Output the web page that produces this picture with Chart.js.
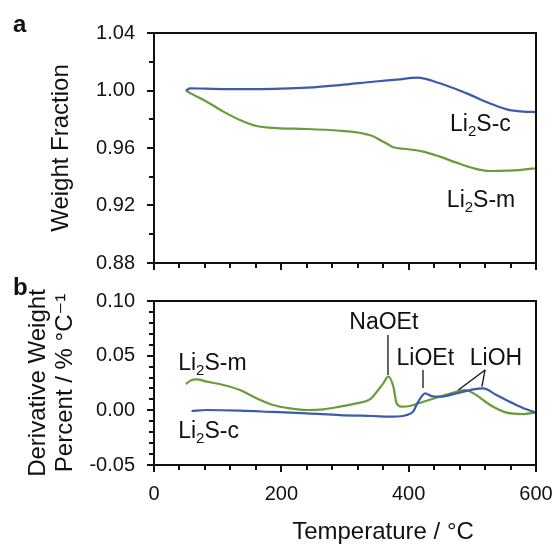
<!DOCTYPE html>
<html><head><meta charset="utf-8">
<script src="https://cdn.jsdelivr.net/npm/chart.js@4.4.1/dist/chart.umd.min.js"></script>
<style>
html,body{margin:0;padding:0;background:#fff;}
#wrap{position:relative;width:555px;height:547px;overflow:hidden;background:#fff;}
#c1{position:absolute;left:0;top:0;}
#c2{position:absolute;left:0;top:270px;}
</style></head><body>
<div id="wrap">
<canvas id="c1" width="555" height="270"></canvas>
<canvas id="c2" width="555" height="277"></canvas>
</div>
<script>
const FONT = "'Liberation Sans', Arial, 'DejaVu Sans', sans-serif";
const BLUE = 'rgb(58,92,170)';
const GREEN = 'rgb(106,156,58)';
const INK = '#111';

// ---- Panel a: weight fraction ----
const tempC_a = [50, 57, 80, 120, 160, 200, 240, 292, 344, 386, 413, 449, 491, 528, 554, 580, 600];
const wfC     = [1.000, 1.0015, 1.0013, 1.0010, 1.0010, 1.0013, 1.0020, 1.0038, 1.0061, 1.0078, 1.0089, 1.0050, 0.9980, 0.9910, 0.9869, 0.9853, 0.9850];
const tempM_a = [50, 60, 83, 109, 135, 161, 180, 198, 240, 292, 320, 334, 345, 355, 366, 376, 386, 397, 423, 449, 475, 502, 528, 554, 580, 600];
const wfM     = [1.000, 0.9975, 0.9922, 0.9853, 0.9795, 0.9753, 0.9742, 0.9737, 0.9732, 0.9720, 0.9708, 0.9695, 0.9680, 0.9656, 0.9630, 0.9605, 0.9597, 0.9593, 0.9575, 0.9540, 0.9498, 0.9459, 0.9440, 0.9442, 0.9450, 0.9459];

// ---- Panel b: derivative weight ----
const tempC_b = [59, 83, 135, 187, 240, 292, 344, 376, 397, 407, 415, 426, 436, 449, 475, 502, 517, 538, 564, 585, 600];
const dwC     = [-0.0006, 0.0003, -0.0003, -0.0015, -0.0027, -0.0043, -0.0052, -0.0058, -0.0043, -0.0012, 0.0079, 0.0155, 0.0130, 0.0125, 0.0155, 0.0192, 0.0201, 0.0140, 0.0064, 0.0009, -0.0021];
const tempM_b = [50, 59, 67, 83, 109, 135, 161, 187, 214, 240, 266, 292, 318, 339, 350, 360, 368, 376, 381, 389, 402, 423, 449, 475, 488, 502, 528, 554, 580, 600];
const dwM     = [0.0241, 0.0278, 0.0284, 0.0262, 0.0232, 0.0186, 0.0110, 0.0049, 0.0018, 0.0003, 0.0009, 0.0034, 0.0064, 0.0100, 0.0170, 0.0247, 0.0308, 0.0216, 0.0064, 0.0034, 0.0040, 0.0079, 0.0125, 0.0170, 0.0186, 0.0155, 0.0049, -0.0021, -0.0034, -0.0021];

// ---- tick labels ----
const xTickLabels = [0, 200, 400, 600];
const yTicksA = [0.88, 0.92, 0.96, 1.00, 1.04];
const yTicksB = [-0.05, 0.00, 0.05, 0.10];

const toPts = (xs, ys) => xs.map((x, i) => ({x: x, y: ys[i]}));

function drawRich(ctx, x, y, parts, align) {
  let total = 0;
  const sized = parts.map(p => {
    ctx.font = (p.sub ? '15px ' : '23px ') + FONT;
    const w = ctx.measureText(p.t).width;
    total += w;
    return {p, w};
  });
  let cx = align === 'center' ? x - total / 2 : x;
  sized.forEach(({p, w}) => {
    ctx.font = (p.sub ? '15px ' : '23px ') + FONT;
    ctx.fillText(p.t, cx, p.sub ? y + 5 : y);
    cx += w;
  });
}

const framePlugin = {
  id: 'frame',
  afterDatasetsDraw(chart, args, o) {
    const {ctx, chartArea: a, scales: {x, y}} = chart;
    ctx.save();
    ctx.strokeStyle = INK;
    ctx.lineWidth = 2;
    ctx.strokeRect(a.left, a.top, a.right - a.left, a.bottom - a.top);
    ctx.beginPath();
    const ny = Math.round((y.max - y.min) / o.yMinor);
    for (let i = 0; i <= ny; i++) {
      const py = Math.round(y.getPixelForValue(y.min + i * o.yMinor));
      const len = (i % o.yMajorEvery === 0) ? 7 : 5;
      ctx.moveTo(a.left - len, py); ctx.lineTo(a.left, py);
    }
    const nx = Math.round((x.max - x.min) / o.xMinor);
    for (let i = 0; i <= nx; i++) {
      const px = Math.round(x.getPixelForValue(x.min + i * o.xMinor));
      const len = (i % o.xMajorEvery === 0) ? 7 : 5;
      ctx.moveTo(px, a.bottom); ctx.lineTo(px, a.bottom + len);
    }
    ctx.stroke();
    ctx.restore();
  }
};

const notesPlugin = {
  id: 'notes',
  afterDraw(chart, args, o) {
    const {ctx, scales: {x, y}} = chart;
    ctx.save();
    ctx.fillStyle = INK;
    ctx.strokeStyle = INK;
    ctx.textBaseline = 'alphabetic';
    ctx.textAlign = 'left';
    (o.labels || []).forEach(l => {
      drawRich(ctx, x.getPixelForValue(l.T), y.getPixelForValue(l.v), l.parts, l.align);
    });
    ctx.lineWidth = 1.3;
    (o.leaders || []).forEach(s => {
      ctx.beginPath();
      ctx.moveTo(x.getPixelForValue(s[0]), y.getPixelForValue(s[1]));
      ctx.lineTo(x.getPixelForValue(s[2]), y.getPixelForValue(s[3]));
      ctx.stroke();
    });
    if (o.panel) {
      ctx.font = 'bold 24px ' + FONT;
      ctx.fillText(o.panel.t, o.panel.x, o.panel.y);
    }
    if (o.xTitle) {
      ctx.font = '24px ' + FONT;
      ctx.textAlign = 'center';
      ctx.textBaseline = 'middle';
      ctx.fillText(o.xTitle.t, o.xTitle.x, o.xTitle.y);
    }
    ctx.restore();
  }
};

const lineDs = (label, data, color) => ({
  label, data, borderColor: color, backgroundColor: color, borderWidth: 2.2,
  pointRadius: 0, cubicInterpolationMode: 'monotone', fill: false
});

const tickFont = {family: FONT, size: 20};
const noSidePad = s => { s.paddingLeft = 0; s.paddingRight = 0; };
const noVertPad = s => { s.paddingTop = 0; s.paddingBottom = 0; };

new Chart(document.getElementById('c1'), {
  type: 'line',
  data: {datasets: [
    lineDs('Li2S-c', toPts(tempC_a, wfC), BLUE),
    lineDs('Li2S-m', toPts(tempM_a, wfM), GREEN)
  ]},
  plugins: [framePlugin, notesPlugin],
  options: {
    responsive: false, animation: false, events: [],
    layout: {padding: {left: 0, right: 19, top: 33, bottom: 7}},
    plugins: {
      legend: {display: false}, tooltip: {enabled: false},
      frame: {yMinor: 0.02, yMajorEvery: 2, xMinor: 40, xMajorEvery: 5},
      notes: {
        labels: [
          {T: 465, v: 0.9718, parts: [{t: 'Li'}, {t: '2', sub: true}, {t: 'S-c'}]},
          {T: 460, v: 0.9190, parts: [{t: 'Li'}, {t: '2', sub: true}, {t: 'S-m'}]}
        ],
        panel: {t: 'a', x: 13, y: 32}
      }
    },
    scales: {
      x: {type: 'linear', min: 0, max: 600,
          grid: {display: false, drawTicks: false}, border: {display: false},
          ticks: {display: false}, afterFit: s => { s.height = 0; noSidePad(s); }},
      y: {min: 0.88, max: 1.04,
          afterBuildTicks: s => { s.ticks = yTicksA.map(v => ({value: v})); },
          grid: {display: false, drawTicks: false}, border: {display: false},
          ticks: {padding: 19, font: tickFont, color: INK, callback: v => Number(v).toFixed(2)},
          title: {display: true, text: 'Weight Fraction', color: INK,
                  font: {family: FONT, size: 24}, padding: {top: 47, bottom: 0}},
          afterFit: s => { s.width = 154; noVertPad(s); }}
    }
  }
});

new Chart(document.getElementById('c2'), {
  type: 'line',
  data: {datasets: [
    lineDs('Li2S-c', toPts(tempC_b, dwC), BLUE),
    lineDs('Li2S-m', toPts(tempM_b, dwM), GREEN)
  ]},
  plugins: [framePlugin, notesPlugin],
  options: {
    responsive: false, animation: false, events: [],
    layout: {padding: {left: 0, right: 19, top: 31, bottom: 0}},
    plugins: {
      legend: {display: false}, tooltip: {enabled: false},
      frame: {yMinor: 0.01, yMajorEvery: 5, xMinor: 40, xMajorEvery: 5},
      notes: {
        labels: [
          {T: 361, v: 0.0748, align: 'center', parts: [{t: 'NaOEt'}]},
          {T: 381, v: 0.0415, parts: [{t: 'LiOEt'}]},
          {T: 496, v: 0.0415, parts: [{t: 'LiOH'}]},
          {T: 38, v: 0.0369, parts: [{t: 'Li'}, {t: '2', sub: true}, {t: 'S-m'}]},
          {T: 38, v: -0.0253, parts: [{t: 'Li'}, {t: '2', sub: true}, {t: 'S-c'}]}
        ],
        leaders: [
          [367.5, 0.0689, 367.5, 0.0323],
          [422.5, 0.0369, 422.5, 0.0204],
          [520, 0.0369, 478, 0.0186],
          [520, 0.0369, 515, 0.0216]
        ],
        panel: {t: 'b', x: 13, y: 25},
        xTitle: {t: 'Temperature / °C', x: 383, y: 262}
      }
    },
    scales: {
      x: {type: 'linear', min: 0, max: 600,
          afterBuildTicks: s => { s.ticks = xTickLabels.map(v => ({value: v})); },
          grid: {display: false, drawTicks: false}, border: {display: false},
          ticks: {padding: 17, font: tickFont, color: INK, maxRotation: 0, autoSkip: false,
                  callback: v => String(v)},
          afterFit: s => { s.height = 82; noSidePad(s); }},
      y: {min: -0.05, max: 0.10,
          afterBuildTicks: s => { s.ticks = yTicksB.map(v => ({value: v})); },
          grid: {display: false, drawTicks: false}, border: {display: false},
          ticks: {padding: 19, font: tickFont, color: INK, callback: v => Number(v).toFixed(2)},
          title: {display: true, text: ['Derivative Weight', 'Percent / % °C⁻¹'], color: INK,
                  font: {family: FONT, size: 24, lineHeight: 1.125}, padding: {top: 25, bottom: 0}},
          afterFit: s => { s.width = 154; noVertPad(s); }}
    }
  }
});
</script>
</body></html>
